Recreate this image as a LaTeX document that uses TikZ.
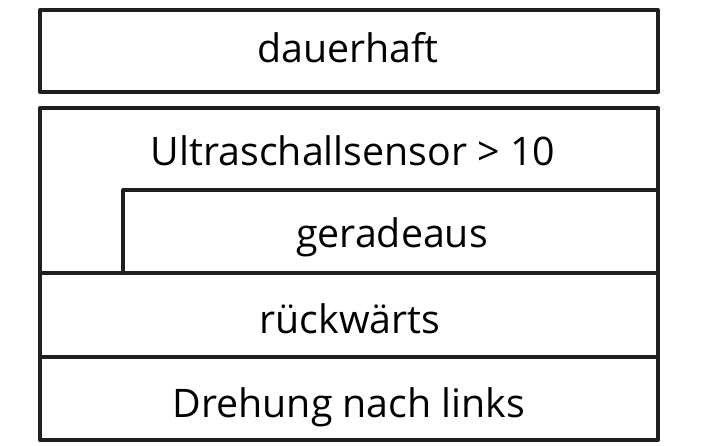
\documentclass[tikz,border=0pt]{standalone}
\usepackage{fontspec}
\setmainfont{Open Sans}
\tikzset{
  blockline/.style={line width=3pt, color=black!88, line join=round, line cap=round},
  label/.style={font=\fontsize{29.5}{34}\selectfont, inner sep=0pt, anchor=base}
}
\begin{document}
\begin{tikzpicture}[x=0.75pt, y=-0.75pt]
\useasboundingbox (0,0) rectangle (701,446);

% Outer loop block
\draw[blockline] (40,10) rectangle (658,92);
\node[label] (forever) at (348,62) {dauerhaft};

% While loop with inner statement
\draw[blockline] (40,108) -- (658,108) -- (658,273) -- (40,273) -- cycle;
\draw[blockline] (123,273) -- (123,190) -- (658,190);
\node[label] (condition) at (353,165) {Ultraschallsensor > 10};
\node[label] (forward) at (392,247) {geradeaus};

% Statements below
\draw[blockline] (40,273) rectangle (658,357);
\draw[blockline] (40,357) rectangle (658,440);
\node[label] (backward) at (350,333) {rückwärts};
\node[label] (turnleft) at (349,417) {Drehung nach links};

\end{tikzpicture}
\end{document}
